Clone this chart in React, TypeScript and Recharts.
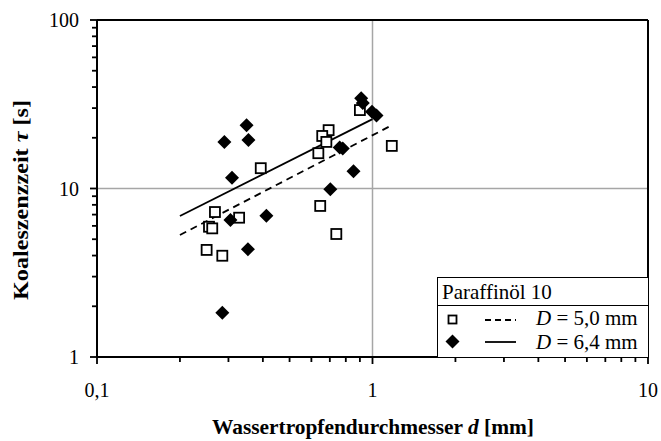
import React from "react";
import { ScatterChart, Scatter, XAxis, YAxis, ReferenceLine } from "recharts";

// D = 5,0 mm (open squares)
const d50X = [0.9, 0.693, 0.657, 0.68, 0.636, 0.393, 1.175, 0.646, 0.739, 0.268, 0.328, 0.255, 0.262, 0.25, 0.285];
const d50Y = [29.2, 22.2, 20.5, 18.9, 16.2, 13.2, 17.9, 7.88, 5.37, 7.25, 6.71, 5.93, 5.8, 4.32, 3.99];

// D = 6,4 mm (filled diamonds)
const d64X = [0.91, 0.922, 0.996, 1.034, 0.349, 0.29, 0.3545, 0.309, 0.305, 0.412, 0.353, 0.285, 0.703, 0.853, 0.76, 0.78];
const d64Y = [34.3, 32.2, 28.5, 27.1, 23.7, 18.9, 19.4, 11.6, 6.5, 6.9, 4.36, 1.83, 9.9, 12.65, 17.5, 17.3];

// trend lines (end points)
const fit50X = [0.2, 1.15];
const fit50Y = [5.3, 23.3];
const fit64X = [0.2, 1.0];
const fit64Y = [6.87, 25.8];

const xTicks = [0.1, 0.2, 0.3, 0.4, 0.5, 0.6, 0.7, 0.8, 0.9, 1, 2, 3, 4, 5, 6, 7, 8, 9, 10];
const yTicks = [1, 2, 3, 4, 5, 6, 7, 8, 9, 10, 20, 30, 40, 50, 60, 70, 80, 90, 100];
const xLabels: Record<number, string> = { 0.1: "0,1", 1: "1", 10: "10" };
const yLabels: Record<number, string> = { 1: "1", 10: "10", 100: "100" };

const legendTitle = "Paraffinöl 10";
const legendRows = ["5,0", "6,4"];

const zip = (xs: number[], ys: number[]) => xs.map((x, i) => ({ x, y: ys[i] }));
const d50 = zip(d50X, d50Y);
const d64 = zip(d64X, d64Y);
const fit50 = zip(fit50X, fit50Y);
const fit64 = zip(fit64X, fit64Y);

const FONT = '"Liberation Serif", "Times New Roman", serif';

const SquareDot = (p: any) => (
  <rect x={p.cx - 5} y={p.cy - 5} width={10} height={10} fill="#fff" stroke="#000" strokeWidth={1.8} />
);
const DiamondDot = (p: any) => (
  <polygon
    points={`${p.cx},${p.cy - 7} ${p.cx + 7},${p.cy} ${p.cx},${p.cy + 7} ${p.cx - 7},${p.cy}`}
    fill="#000"
  />
);
const NoDot = () => null;

// tick marks: major 7px, minor 5px, labels only on decades
const XTick = (p: any) => {
  const label = xLabels[p.payload.value];
  const len = label ? 7 : 5;
  return (
    <g>
      <rect x={p.x - 0.9} y={p.y} width={1.8} height={len} fill="#000" />
      {label && (
        <text x={p.x} y={p.y + 40} textAnchor="middle" fontFamily={FONT} fontSize={20} fill="#000">
          {label}
        </text>
      )}
    </g>
  );
};

const YTick = (p: any) => {
  const label = yLabels[p.payload.value];
  const len = label ? 7 : 5;
  return (
    <g>
      <rect x={p.x - len} y={p.y - 0.9} width={len} height={1.8} fill="#000" />
      {label && (
        <text x={p.x - 18} y={p.y + 7} textAnchor="end" fontFamily={FONT} fontSize={20} fill="#000">
          {label}
        </text>
      )}
    </g>
  );
};

// legend box sits over the lower right corner of the plot
const LegendBox = () => (
  <svg
    width={212}
    height={81}
    viewBox="437 277 212 81"
    style={{ position: "absolute", left: 437, top: 277, pointerEvents: "none" }}
    fontFamily={FONT}
    fontSize={21}
  >
    <rect x={437.5} y={277.5} width={211} height={80} fill="#fff" stroke="#000" strokeWidth={1} />
    <line x1={437.5} x2={648} y1={305.5} y2={305.5} stroke="#000" strokeWidth={1} />
    <text x={442} y={299}>
      {legendTitle}
    </text>
    <rect x={448.5} y={315.5} width={8} height={8} fill="#fff" stroke="#000" strokeWidth={1.8} />
    <line x1={485} x2={516} y1={320} y2={320} stroke="#000" strokeWidth={1.8} strokeDasharray="6 4" />
    <text x={536} y={325}>
      <tspan fontStyle="italic">D</tspan> = {legendRows[0]} mm
    </text>
    <polygon points="452.5,334.5 459.5,341.5 452.5,348.5 445.5,341.5" fill="#000" />
    <line x1={485} x2={516} y1={342} y2={342} stroke="#000" strokeWidth={1.8} />
    <text x={536} y={349}>
      <tspan fontStyle="italic">D</tspan> = {legendRows[1]} mm
    </text>
  </svg>
);

export default function App() {
  return (
    <div style={{ position: "absolute", left: 0, top: 0, width: 661, height: 441, background: "#fff" }}>
      <ScatterChart width={661} height={441} margin={{ top: 20, right: 13, left: 0, bottom: 0 }}>
        <XAxis
          type="number"
          dataKey="x"
          scale="log"
          domain={[0.1, 10]}
          allowDataOverflow
          ticks={xTicks}
          interval={0}
          height={84}
          tickSize={0}
          tickMargin={0}
          tickLine={false}
          tick={(p: any) => <XTick {...p} />}
          axisLine={{ stroke: "#000", strokeWidth: 2 }}
          label={{
            position: "insideBottom",
            offset: 0,
            content: () => (
              <text
                x={373}
                y={434}
                textAnchor="middle"
                fontFamily={FONT}
                fontSize={21}
                fontWeight="bold"
                fill="#000"
                textLength={322}
                lengthAdjust="spacingAndGlyphs"
              >
                Wassertropfendurchmesser <tspan fontStyle="italic">d</tspan> [mm]
              </text>
            ),
          }}
        />
        <YAxis
          type="number"
          dataKey="y"
          scale="log"
          domain={[1, 100]}
          allowDataOverflow
          ticks={yTicks}
          interval={0}
          width={97}
          tickSize={0}
          tickMargin={0}
          tickLine={false}
          tick={(p: any) => <YTick {...p} />}
          axisLine={{ stroke: "#000", strokeWidth: 2 }}
          label={{
            position: "insideLeft",
            content: () => (
              <text
                x={200}
                y={28}
                transform="rotate(-90 0 0) translate(-400 0)"
                textAnchor="middle"
                fontFamily={FONT}
                fontSize={21}
                fontWeight="bold"
                fill="#000"
                textLength={200}
                lengthAdjust="spacingAndGlyphs"
              >
                Koaleszenzzeit <tspan fontStyle="italic">τ</tspan> [s]
              </text>
            ),
          }}
        />
        <ReferenceLine x={1} stroke="#a6a6a6" strokeWidth={1.5} />
        <ReferenceLine y={10} stroke="#a6a6a6" strokeWidth={1.5} />
        <ReferenceLine x={10} stroke="#000" strokeWidth={2} />
        <ReferenceLine y={100} stroke="#000" strokeWidth={2} />
        <Scatter
          name="fit50"
          data={fit50}
          shape={NoDot}
          line={{ stroke: "#000", strokeWidth: 1.8, strokeDasharray: "7 5" }}
          isAnimationActive={false}
        />
        <Scatter name="fit64" data={fit64} shape={NoDot} line={{ stroke: "#000", strokeWidth: 1.8 }} isAnimationActive={false} />
        <Scatter name="D = 5,0 mm" data={d50} shape={SquareDot} isAnimationActive={false} />
        <Scatter name="D = 6,4 mm" data={d64} shape={DiamondDot} isAnimationActive={false} />
      </ScatterChart>
      <LegendBox />
    </div>
  );
}
